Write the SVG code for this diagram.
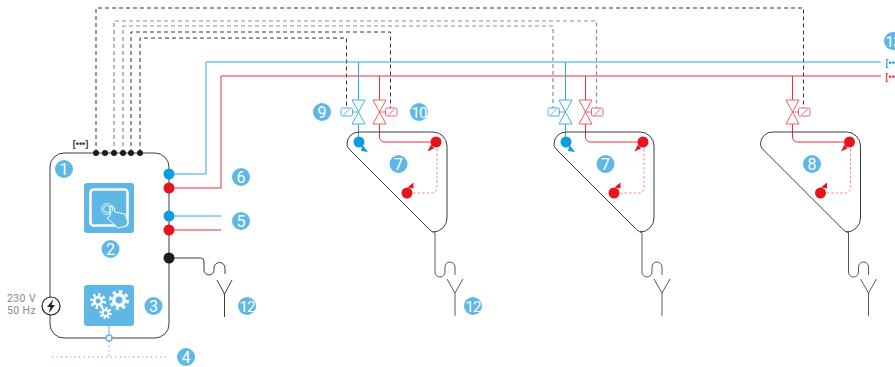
<svg xmlns="http://www.w3.org/2000/svg" width="895" height="367" viewBox="0 0 895 367">
<style>
.o{fill:none;stroke:#3c3c3c;stroke-width:1}
.dr{fill:none;stroke:#5a5a5a;stroke-width:1}
.d{fill:none;stroke:#333;stroke-width:1;stroke-dasharray:4 3}
.g{fill:none;stroke:#8c8c8c;stroke-width:1.200;stroke-dasharray:4 3}
.b{fill:none;stroke:#2aa8e6;stroke-width:1}
.r{fill:none;stroke:#e8303a;stroke-width:1}
.rd{fill:none;stroke:#ee6a70;stroke-width:.8;stroke-dasharray:2.500 2}
.dot{fill:none;stroke:#5eb7e5;stroke-width:1;stroke-dasharray:1.500 3}
.vb{fill:#fff;stroke:#45b4e8;stroke-width:1}
.vr{fill:#fff;stroke:#ec6267;stroke-width:1}
.cb{fill:#0f9be0}.cr{fill:#e5141f}.ck{fill:#1c1c1c}
.n{fill:#5eb7e5}
.t{font-family:"Roboto","Liberation Sans",sans-serif;font-size:16px;fill:#fff;text-anchor:middle}
.tt{font-family:"Roboto","Liberation Sans",sans-serif;font-size:15px;fill:#fff;text-anchor:middle;letter-spacing:-1px}
.s{font-family:"Roboto","Liberation Sans",sans-serif;font-size:10.500px;fill:#888;text-anchor:middle;letter-spacing:.4px}
.br{font-family:"Liberation Sans",sans-serif;font-size:9px;font-weight:bold}
.gw{fill:#fff}
.gh{fill:#5eb7e5}
</style>
<defs>
<g id="drain">
<path class="dr" d="M0,0V40a5,5 0 0 0 10,0V35a5,5 0 0 1 10,0V43"/>
<path class="dr" d="M12,47L20,61L28,47"/>
<path class="dr" d="M20,61V84"/>
</g>
<g id="vb"><path class="vb" d="M-6.500,-12H6.500L-6.500,12H6.500ZM0,0H-6"/><rect x="-17.500" y="-4" width="11.500" height="8" rx="1.500" class="vb"/><path class="vb" d="M-15,3L-9,-3"/></g>
<g id="vr"><path class="vr" d="M-6.500,-12H6.500L-6.500,12H6.500ZM0,0H6"/><rect x="6" y="-4" width="11.500" height="8" rx="1.500" class="vr"/><path class="vr" d="M9,3L15,-3"/></g>
<g id="tri">
<path class="o" d="M360,132H433a14,14 0 0 1 14,14V218a14,14 0 0 1 -14,14H434C432,232 430,230 428,228L350,150C348,148 347,146 347,144A12,12 0 0 1 360,132Z"/>
<circle cx="436" cy="142" r="5.500" class="cr"/>
<circle cx="407" cy="193" r="5.500" class="cr"/>
<path class="rd" d="M437,149V188a5,5 0 0 1 -5,5H413"/>
<path class="cr" d="M431,144.500L434,148.500L427.500,151.500ZM413.500,182.500L413.500,188.500L407.500,187.500Z"/>
</g>
</defs>
<g id="connectors">
<path class="d" d="M96,153V8H803.500V108"/>
<path class="g" d="M114,153V21H596.500V108"/>
<path class="g" d="M123,153V26H553V108"/>
<path class="d" d="M131,153V32H390.500V108"/>
<path class="d" d="M140,153V38H346.500V108"/>
<path class="b" d="M169,174H206V62H881"/>
<path class="r" d="M169,188H221V76H881"/>
<path class="b" d="M169,216H221"/>
<path class="r" d="M169,230H221"/>
<path class="o" d="M169,258H201Q204,258 204,262V270A5,5 0 0 0 214,270V268A5.500,5.500 0 0 1 225,268V274"/>
<path class="o" d="M217,280L224.500,294L232,280M224.500,294V317"/>
<path d="M109,326V335" stroke="#5eb7e5" fill="none"/>
<path class="dot" d="M109,341V357M52,357H167"/>
<path class="b" d="M358.500,62V137M565.500,62V137"/>
<path class="r" d="M379.500,76V137a5,5 0 0 0 5,5H436M585.500,76V137a5,5 0 0 0 5,5H643M792.500,76V137a5,5 0 0 0 5,5H849"/>
</g>
<g id="node1">
<rect x="50" y="153" width="119" height="185" rx="14" fill="#fff" class="o"/>
<text x="80.500" y="147" class="br" text-anchor="middle" fill="#333">[•••]</text>
<g class="ck"><circle cx="96" cy="153" r="3"/><circle cx="105" cy="153" r="3"/><circle cx="114" cy="153" r="3"/><circle cx="123" cy="153" r="3"/><circle cx="131" cy="153" r="3"/><circle cx="140" cy="153" r="3"/></g>
<circle cx="64" cy="169" r="9" class="n"/><text x="64" y="175" class="t">1</text>
</g>
<g id="node2">
<rect x="84" y="183" width="50" height="50" rx="3" class="n"/>
<rect x="90.500" y="189.500" width="37" height="36" rx="3" fill="none" stroke="#fff" stroke-width="2.500"/>
<path d="M118,228L107,218L110,216V208A1.500,1.500 0 0 1 114,208L115,212L125,214L128,222L126,226Z" class="n" stroke="#fff"/>
<circle cx="107" cy="209" r="5.500" fill="none" stroke="#fff" stroke-width=".8"/>
<circle cx="107" cy="209" r="3.500" fill="none" stroke="#fff" stroke-width=".8"/>
<circle cx="110.500" cy="249" r="9" class="n"/><text x="110.500" y="255" class="t">2</text>
</g>
<g id="node3">
<rect x="84" y="285" width="50" height="41" rx="3" class="n"/>
<circle cx="98" cy="301" r="5" class="gw"/><circle cx="98" cy="301" r="6.500" fill="none" stroke="#fff" stroke-width="3" pathLength="80" stroke-dasharray="5 5"/><circle cx="98" cy="301" r="2.500" class="gh"/>
<circle cx="119" cy="300" r="7" class="gw"/><circle cx="119" cy="300" r="8.500" fill="none" stroke="#fff" stroke-width="3" pathLength="80" stroke-dasharray="5 5"/><circle cx="119" cy="300" r="3.500" class="gh"/>
<circle cx="105.500" cy="313" r="4" class="gw"/><circle cx="105.500" cy="313" r="5" fill="none" stroke="#fff" stroke-width="2.500" pathLength="80" stroke-dasharray="5 5"/><circle cx="105.500" cy="313" r="2" class="gh"/>
<circle cx="153.500" cy="306" r="9" class="n"/><text x="153.500" y="312" class="t">3</text>
</g>
<g id="node4">
<circle cx="109" cy="338" r="3" fill="#fff" stroke="#5eb7e5" stroke-width="1.500"/>
<circle cx="186" cy="357" r="9" class="n"/><text x="186" y="363" class="t">4</text>
</g>
<g id="power">
<circle cx="51" cy="306" r="9" fill="#fff" stroke="#222" stroke-width="1.200"/>
<path d="M53.500,299L47,307H50.500L48.500,313.500L55,305H51.500Z" fill="#222"/>
<text x="21.500" y="302" class="s">230 V</text><text x="21.500" y="314" class="s">50 Hz</text>
</g>
<g id="ports">
<circle cx="169" cy="174" r="5.500" class="cb"/><circle cx="169" cy="188" r="5.500" class="cr"/>
<circle cx="169" cy="216" r="5.500" class="cb"/><circle cx="169" cy="230" r="5.500" class="cr"/>
<circle cx="169" cy="258" r="5.500" class="ck"/>
<circle cx="241" cy="177" r="9" class="n"/><text x="241" y="183" class="t">6</text>
<circle cx="241" cy="221" r="9" class="n"/><text x="241" y="227" class="t">5</text>
<circle cx="247" cy="306" r="9" class="n"/><text x="247" y="311.500" class="tt">12</text>
</g>
<g id="zone7">
<use href="#tri"/>
<circle cx="359" cy="142" r="5.500" class="cb"/><path class="cb" d="M362.500,145L368,152L361,151Z"/>
<use href="#vb" x="358.500" y="112"/><use href="#vr" x="379.500" y="112"/>
<use href="#drain" x="435" y="232"/>
<circle cx="322" cy="112" r="9" class="n"/><text x="322" y="118" class="t">9</text>
<circle cx="419" cy="112" r="9" class="n"/><text x="419" y="117.500" class="tt">10</text>
<circle cx="398.500" cy="164" r="9" class="n"/><text x="398.500" y="170" class="t">7</text>
<circle cx="473" cy="306" r="9" class="n"/><text x="473" y="311.500" class="tt">12</text>
</g>
<g id="zone7b">
<use href="#tri" x="207"/>
<circle cx="566" cy="142" r="5.500" class="cb"/><path class="cb" d="M569.500,145L575,152L568,151Z"/>
<use href="#vb" x="565.500" y="112"/><use href="#vr" x="585.500" y="112"/>
<use href="#drain" x="642" y="232"/>
<circle cx="605.500" cy="164" r="9" class="n"/><text x="605.500" y="170" class="t">7</text>
</g>
<g id="zone8">
<use href="#tri" x="413.500"/>
<use href="#vr" x="792.500" y="112"/>
<use href="#drain" x="848.500" y="232"/>
<circle cx="812" cy="164" r="9" class="n"/><text x="812" y="170" class="t">8</text>
</g>
<g id="node13">
<circle cx="893" cy="41" r="9" class="n"/><text x="893" y="46.500" class="tt">13</text>
<text x="885.500" y="65.500" class="br" fill="#1ba1e2">[•••]</text>
<text x="885.500" y="79.500" class="br" fill="#e8303a">[•••]</text>
</g>
</svg>
